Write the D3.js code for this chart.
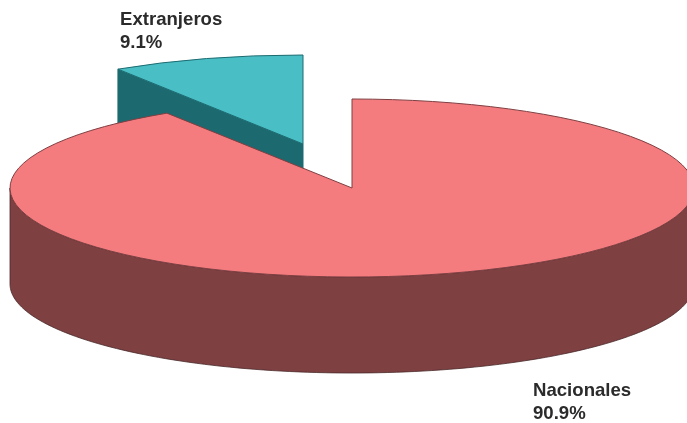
<!DOCTYPE html>
<html><head><meta charset="utf-8">
<script src="https://cdn.jsdelivr.net/npm/d3@7"></script>
<style>html,body{margin:0;padding:0;background:#fff}svg{display:block}
text{font-family:"Liberation Sans",Arial,sans-serif;font-weight:700;font-size:18.6px;fill:#2b2b2b}</style>
</head><body><svg id="c" width="687" height="423"></svg>
<script>
const categories = ["Nacionales", "Extranjeros"];
const shareValues = [90.9, 9.1];
const shareLabels = ["90.9%", "9.1%"];
const topColors = ["#f47c7f", "#48bfc5"];
const sideColors = ["#7f3f42", "#1c6b70"];

(function () {
const cx = 352, cy = 188, rx = 342, ry = 89, depth = 96;
const explode = [[0, 0], [-49, -44]];
const labelPos = [[533, 396], [120, 25]];
const edge = "#4a2a2a";

const svg = d3.select("#c");
const defs = svg.append("defs");
defs.append("filter").attr("id", "soft").append("feGaussianBlur").attr("stdDeviation", 0.45);
const root = svg.append("g").attr("filter", "url(#soft)");

const arcs = d3.pie().sort(null).value(d => d)(shareValues);
const arcGen = d3.arc().innerRadius(0).outerRadius(rx);
const px = a => rx * Math.sin(a), py = a => -ry * Math.cos(a);

function cutFace(i) {
  const a = arcs[i].startAngle, [dx, dy] = explode[i];
  const p = d3.path();
  p.moveTo(cx + dx, cy + dy);
  p.lineTo(cx + dx + px(a), cy + dy + py(a));
  p.lineTo(cx + dx + px(a), cy + dy + py(a) + depth);
  p.lineTo(cx + dx, cy + dy + depth);
  p.closePath();
  return p.toString();
}
function frontWall(i) {
  const d = arcs[i];
  const a0 = Math.max(d.startAngle, Math.PI / 2), a1 = Math.min(d.endAngle, Math.PI * 1.5);
  const pts = d3.range(0, 121).map(k => a0 + (a1 - a0) * k / 120);
  const upper = pts.map(a => [cx + px(a), cy + py(a)]);
  const lower = pts.slice().reverse().map(a => [cx + px(a), cy + py(a) + depth]);
  return d3.line()(upper.concat(lower)) + "Z";
}
function drawTop(i) {
  const [dx, dy] = explode[i];
  root.append("g")
    .attr("transform", `translate(${cx + dx},${cy + dy}) scale(1,${ry / rx})`)
    .append("path").attr("d", arcGen(arcs[i]))
    .attr("fill", topColors[i]).attr("stroke", sideColors[i])
    .attr("stroke-width", 1).attr("vector-effect", "non-scaling-stroke");
}

root.append("path").attr("d", cutFace(1)).attr("fill", sideColors[1]).attr("stroke", sideColors[1]);
drawTop(1);
root.append("path").attr("d", frontWall(0)).attr("fill", sideColors[0]).attr("stroke", edge).attr("stroke-width", 0.8);
drawTop(0);

categories.forEach((c, i) => {
  const t = svg.append("text").attr("x", labelPos[i][0]).attr("y", labelPos[i][1]);
  t.append("tspan").attr("x", labelPos[i][0]).text(c);
  t.append("tspan").attr("x", labelPos[i][0]).attr("dy", 22.5).text(shareLabels[i]);
});
})();
</script></body></html>
